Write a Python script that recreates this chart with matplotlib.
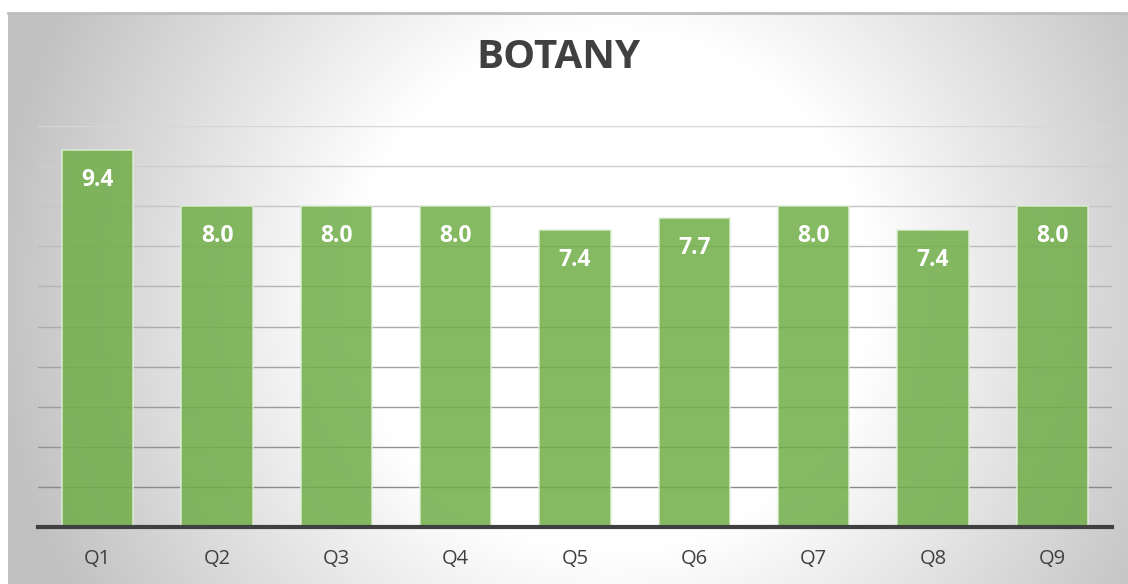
import numpy as np
import matplotlib
matplotlib.use("Agg")
import matplotlib.pyplot as plt
from matplotlib.lines import Line2D

categories = ["Q1", "Q2", "Q3", "Q4", "Q5", "Q6", "Q7", "Q8", "Q9"]
scores = [9.4, 8.0, 8.0, 8.0, 7.4, 7.7, 8.0, 7.4, 8.0]
title = "BOTANY"

W, H = 1128, 584
plt.rcParams['font.family'] = ['Open Sans', 'DejaVu Sans']

fig = plt.figure(figsize=(W / 100, H / 100), dpi=100)
fig.patch.set_facecolor('white')

# radial gray background behind the chart (pixel space)
bx0, by0 = 8, 13
bg = fig.add_axes([bx0 / W, 0, (W - bx0) / W, (H - by0) / H])
xx, yy = np.meshgrid(np.arange(bx0, W), np.arange(by0, H))
r = np.hypot(xx - 610, yy - 290)
t = np.clip((r - 260) / 360, 0, 1)
shade = (255 - 62 * t) / 255
img = np.dstack([shade, shade, shade])
bg.imshow(img, aspect='auto', extent=[0, 1, 0, 1], origin='upper')
bg.set_axis_off()
fig.add_artist(Line2D([bx0 / W, 1], [1 - by0 / H, 1 - by0 / H],
                      color='#bdbdbd', lw=2, transform=fig.transFigure))

# plot area
left, right, top, bottom = 38, 1112, 126, 527
ax = fig.add_axes([left / W, (H - bottom) / H, (right - left) / W, (bottom - top) / H])
ax.patch.set_alpha(0)
x = np.arange(len(categories))
ax.set_xlim(-0.5, len(categories) - 0.5)
ax.set_ylim(0, 10)

for v in range(1, 11):
    f = (v - 1) / 9
    g = 0.54 + 0.30 * f
    ax.axhline(v, color=(g, g, g), lw=1.0, zorder=1)

ax.bar(x, scores, width=0.6, color='#70ad47', alpha=0.85,
       edgecolor='#e2efd9', linewidth=1.2, zorder=2)

for xi, v in zip(x, scores):
    ax.text(xi, v - 0.74, f"{v:.1f}", ha='center', va='center',
            color='white', fontsize=16.5, fontweight='bold', zorder=3)

for s in ['top', 'right', 'left']:
    ax.spines[s].set_visible(False)
ax.spines['bottom'].set_color('#404040')
ax.spines['bottom'].set_linewidth(3)
ax.spines['bottom'].set_zorder(4)
ax.set_yticks([])
ax.set_xticks(x)
ax.set_xticklabels(categories, fontsize=14.5, color='#404040')
ax.tick_params(axis='x', length=0, pad=16)

fig.text(558 / W, 1 - 57 / H, title, ha='center', va='center',
         fontsize=29, fontweight='bold', color='#404040')

fig.savefig('out.png', dpi=100)
